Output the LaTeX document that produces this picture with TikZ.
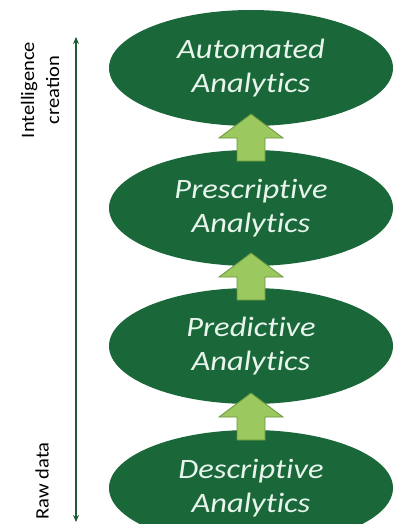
\documentclass[tikz,border=0pt]{standalone}
\usepackage{fontspec}
\setmainfont{Carlito}
\newfontfamily\ovalfont[FakeStretch=1.16,Ligatures=NoCommon]{Carlito}
\newfontfamily\sidefont[FakeStretch=1.08]{Carlito}
\usepackage{tikz}
\usetikzlibrary{shapes.geometric,arrows.meta,calc,positioning}
\definecolor{darkleaf}{RGB}{26,104,58}
\definecolor{lightleaf}{RGB}{155,200,95}
\definecolor{leafedge}{RGB}{105,150,60}
\definecolor{axisgreen}{RGB}{35,90,50}
\definecolor{paletext}{RGB}{232,245,236}

\tikzset{
    stage/.style={ellipse, fill=darkleaf, minimum width=284pt, minimum height=116pt,
        inner sep=0pt, align=center, text=paletext,
        font=\ovalfont\itshape\fontsize{28}{34}\selectfont},
    sidelabel/.style={rotate=90, align=center, font=\sidefont\fontsize{19}{25}\selectfont}
}

\begin{document}
\begin{tikzpicture}[x=1pt,y=-1pt]
    \useasboundingbox (0,0) rectangle (395,524);
    \clip (0,0) rectangle (395,524);

    % Stages
    \node[stage] (auto) at (251,68) {Automated\\Analytics};
    \node[stage] (presc) at (251,208) {Prescriptive\\Analytics};
    \node[stage] (pred) at (251,346) {Predictive\\Analytics};
    \node[stage] (desc) at (251,488) {Descriptive\\Analytics};

    % Block arrows between stages
    \foreach \lo/\hi in {presc/auto, pred/presc, desc/pred} {
        \coordinate (m) at ($(\hi.south)!0.5!(\lo.north)$);
        \draw[fill=lightleaf, draw=leafedge, line width=0.8pt]
            ($(m)+(0,-24)$) -- ($(m)+(32,0)$) -- ($(m)+(14,0)$) -- ($(m)+(14,23)$)
            -- ($(m)+(-14,23)$) -- ($(m)+(-14,0)$) -- ($(m)+(-32,0)$) -- cycle;
    }

    % Axis
    \coordinate (top) at (76,37);
    \coordinate (bot) at (76,522);
    \draw[axisgreen, line width=1.1pt, {Stealth[length=7pt,width=6pt]}-{Stealth[length=7pt,width=6pt]}] (bot) -- (top);
    \node[sidelabel] (intel) at (40,90) {Intelligence\\creation};
    \node[sidelabel] (raw) at (42,481) {Raw data};
\end{tikzpicture}
\end{document}
